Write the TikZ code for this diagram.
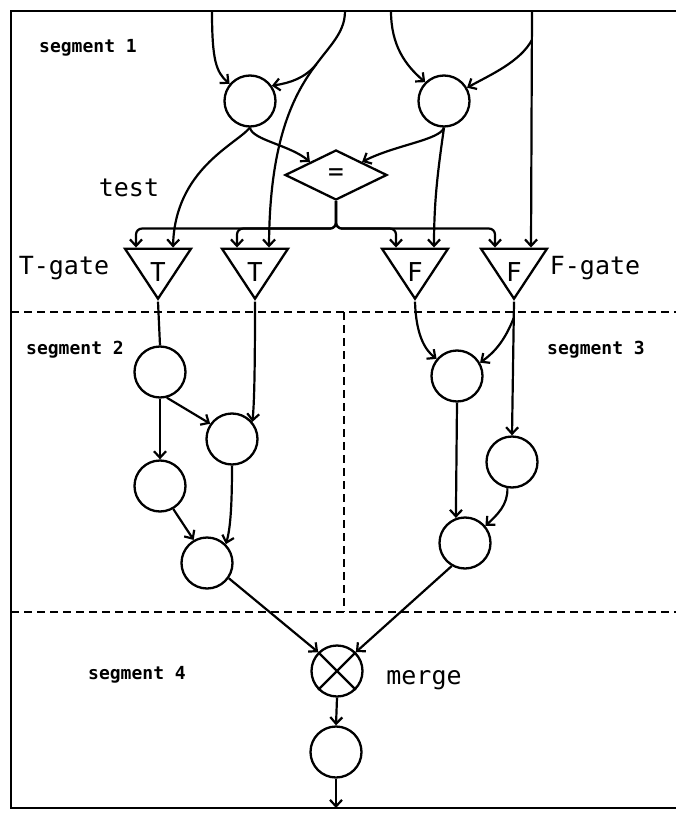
\documentclass[tikz,border=0pt]{standalone}
\usepackage{fontspec}
\setmonofont{DejaVu Sans Mono}
\usetikzlibrary{arrows.meta,shapes.geometric}
\begin{document}
\begin{tikzpicture}[x=1pt,y=-1pt,
  ln/.style={line width=2.2pt},
  arr/.style={line width=2.2pt,-{Straight Barb[length=6.5pt,width=12pt]}},
  nd/.style={circle,draw,line width=2.3pt,minimum size=51pt,inner sep=0pt},
  gate/.style={isosceles triangle,draw,line width=2.3pt,shape border rotate=270,
    isosceles triangle stretches,minimum width=66pt,minimum height=50pt,inner sep=0pt,
    font=\ttfamily\fontsize{26}{30}\selectfont},
  test/.style={diamond,draw,line width=2.3pt,aspect=2,minimum width=102pt,minimum height=50pt,
    inner sep=0pt,font=\ttfamily\fontsize{26}{30}\selectfont},
  lab/.style={font=\ttfamily\fontsize{25}{30}\selectfont,inner sep=0pt},
  seg/.style={font=\ttfamily\bfseries\fontsize{18}{22}\selectfont,inner sep=0pt},
  sepline/.style={line width=2.3pt,dash pattern=on 8pt off 5pt},
  frame/.style={line width=2.3pt}]
\useasboundingbox (0,0) rectangle (676,813);
% frame and segment separators
\draw[frame] (676,11) -- (11,11) -- (11,808) -- (676,808);
\draw[sepline] (11,312) -- (676,312);
\draw[sepline] (11,612) -- (676,612);
\draw[sepline] (344,312) -- (344,612);
% input coordinates
\coordinate (in1) at (212,11);
\coordinate (in2) at (345,11);
\coordinate (in3) at (391,11);
\coordinate (in4) at (532,11);
% nodes
\node[nd] (c1) at (250,101) {};
\node[nd] (c2) at (444,101) {};
\node[test] (d) at (336,175) {=};
\node[gate] (t1) at (158,265) {\raisebox{-7pt}[19pt][0pt]{T}};
\node[gate] (t2) at (255,265) {\raisebox{-7pt}[19pt][0pt]{T}};
\node[gate] (f1) at (415,265) {\raisebox{-7pt}[19pt][0pt]{F}};
\node[gate] (f2) at (514,265) {\raisebox{-7pt}[19pt][0pt]{F}};
\node[nd] (s2a) at (160,372) {};
\node[nd] (s2b) at (232,439) {};
\node[nd] (s2c) at (160,486) {};
\node[nd] (s2d) at (207,563) {};
\node[nd] (s3a) at (457,376) {};
\node[nd] (s3b) at (512,462) {};
\node[nd] (s3c) at (465,543) {};
\node[nd] (m) at (337,671) {};
\node[nd] (b) at (336,752) {};
\coordinate (out) at (336,808);
% gate inputs
\coordinate (t1b) at ([xshift=-22pt]t1.north);
\coordinate (t1c) at ([xshift=15pt]t1.north);
\coordinate (t2b) at ([xshift=-18pt]t2.north);
\coordinate (t2c) at ([xshift=14pt]t2.north);
\coordinate (f1b) at ([xshift=-19pt]f1.north);
\coordinate (f1c) at ([xshift=19pt]f1.north);
\coordinate (f2b) at ([xshift=-19pt]f2.north);
\coordinate (f2c) at ([xshift=17pt]f2.north);
% labels
\node[seg] (l1) at (88,48) {segment 1};
\node[seg] (l2) at (75,350) {segment 2};
\node[seg] (l3) at (596,350) {segment 3};
\node[seg] (l4) at (137,675) {segment 4};
\node[lab] (ltest) at (129,188) {test};
\node[lab] (ltg) at (64,268) {T-gate};
\node[lab] (lfg) at (595,268) {F-gate};
\node[lab] (lm) at (424,680) {merge};
% segment 1 connectors
\draw[arr] (in1) .. controls (212,60) and (216,72) .. (c1.140);
\draw[arr] (in2) .. controls (345,60) and (270,60) .. (t2c);
\coordinate (sp1) at (316.3,64.4);
\draw[arr] (sp1) .. controls (305,78) and (290,83) .. (c1.35);
\draw[arr] (in3) .. controls (391,45) and (405,65) .. (c2.135);
\draw[arr] (in4) -- (f2c);
\coordinate (sp2) at (531.9,40);
\draw[arr] (sp2) .. controls (520,62) and (490,75) .. (c2.30);
\draw[arr] (c1.south) .. controls (252,140) and (290,145) .. (d.north west);
\draw[arr] (c1.south) .. controls (235,145) and (175,170) .. (t1c);
\draw[arr] (c2.south) .. controls (440,140) and (395,145) .. (d.north east);
\draw[arr] (c2.south) .. controls (438,170) and (434,200) .. (f1c);
\draw[arr,rounded corners=6pt] (d.south) |- ([yshift=19pt]t1b) -- (t1b);
\draw[arr,rounded corners=6pt] (d.south) |- ([yshift=19pt]t2b) -- (t2b);
\draw[arr,rounded corners=6pt] (d.south) |- ([yshift=19pt]f1b) -- (f1b);
\draw[arr,rounded corners=6pt] (d.south) |- ([yshift=19pt]f2b) -- (f2b);
% segment 2
\draw[ln] (t1.apex) -- (s2a.north);
\draw[arr] (t2.apex) .. controls (255,380) and (254,405) .. (s2b.40);
\draw[arr] (s2a.-75) -- (s2b.145);
\draw[arr] (s2a.south) -- (s2c.north);
\draw[arr] (s2c.-60) -- (s2d.120);
\draw[arr] (s2b.south) .. controls (232,510) and (230,530) .. (s2d.45);
\draw[arr] (s2d.-35) -- (m.135);
% segment 3
\draw[arr] (f1.apex) .. controls (416,335) and (425,350) .. (s3a.140);
\draw[arr] (f2.apex) -- (s3b.north);
\coordinate (sp3) at (513.7,318);
\draw[arr] (sp3) .. controls (505,340) and (495,352) .. (s3a.30);
\draw[arr] (s3a.south) -- (s3c.110);
\draw[arr] (s3b.-100) .. controls (508,505) and (497,515) .. (s3c.40);
\draw[arr] (s3c.-120) -- (m.45);
% segment 4
\draw[ln] (m.45) -- (m.-135) (m.135) -- (m.-45);
\draw[arr] (m.south) -- (b.north);
\draw[arr] (b.south) -- (out);
\end{tikzpicture}
\end{document}
